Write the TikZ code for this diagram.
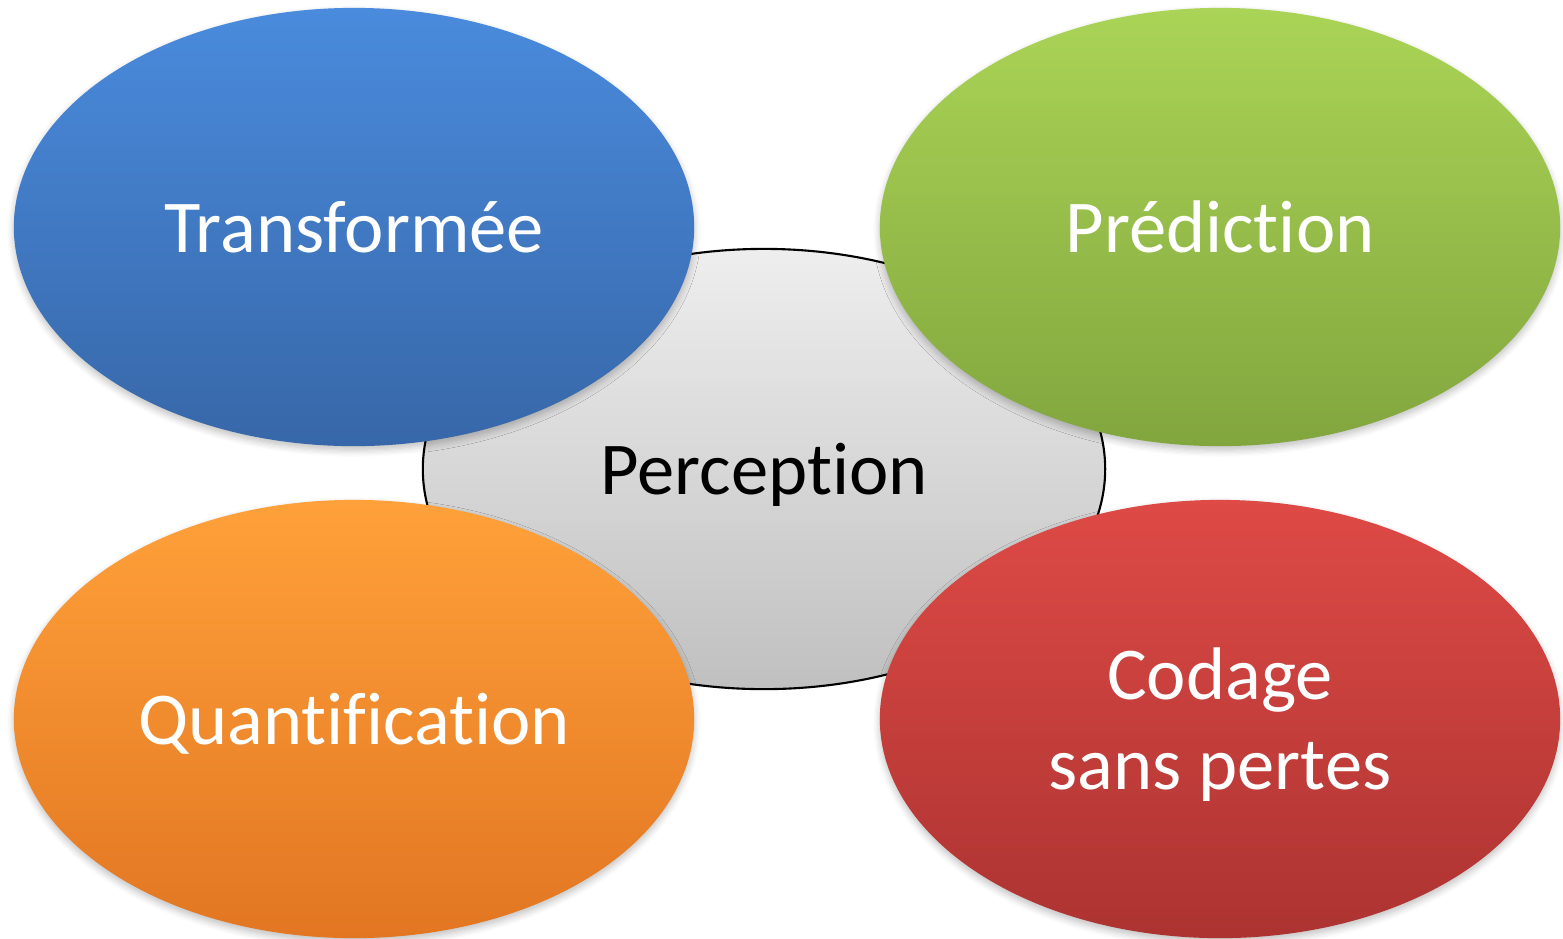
\documentclass[tikz,border=0pt]{standalone}
\usepackage{fontspec}
\setmainfont{Carlito}[Ligatures=NoCommon]
\usetikzlibrary{shapes.geometric,shadows.blur}
\definecolor{blueTop}{RGB}{74,139,221}
\definecolor{blueBot}{RGB}{55,103,168}
\definecolor{greenTop}{RGB}{170,212,86}
\definecolor{greenBot}{RGB}{130,166,62}
\definecolor{orangeTop}{RGB}{255,161,58}
\definecolor{orangeBot}{RGB}{226,118,34}
\definecolor{redTop}{RGB}{222,74,70}
\definecolor{redBot}{RGB}{172,51,49}
\definecolor{grayTop}{RGB}{238,238,238}
\definecolor{grayBot}{RGB}{192,192,192}
\tikzset{
  petal/.style={ellipse, minimum width=6.8cm, minimum height=4.38cm, inner sep=0pt,
    blur shadow={shadow xshift=0pt, shadow yshift=-0.4mm, shadow blur steps=6, shadow opacity=25}},
  hub/.style={ellipse, minimum width=6.82cm, minimum height=4.4cm, inner sep=0pt,
    draw=black, line width=0.6pt, top color=grayTop, bottom color=grayBot},
  caption/.style={inner sep=0pt, align=center, text=white,
    font=\fontsize{21.2}{25.6}\selectfont},
}
\begin{document}
\begin{tikzpicture}[x=0.01cm, y=-0.01cm]
\useasboundingbox (0,0) rectangle (1563,938);
% central ellipse, drawn first so the four petals overlap it
\node[hub] (perc) at (764,469) {};
\node[petal, top color=blueTop, bottom color=blueBot] (trans) at (354,227) {};
\node[petal, top color=greenTop, bottom color=greenBot] (pred) at (1220,227) {};
\node[petal, top color=orangeTop, bottom color=orangeBot] (quant) at (354,719) {};
\node[petal, top color=redTop, bottom color=redBot] (code) at (1220,719) {};
% captions
\node[caption, text=black, yshift=-0.06cm] (percT) at (perc) {Perception};
\node[caption] (transT) at (trans) {Transformée};
\node[caption] (predT) at (pred) {Prédiction};
\node[caption, yshift=-0.05cm] (quantT) at (quant) {Quantification};
\node[caption, yshift=-0.06cm] (codeT) at (code) {Codage\\sans pertes};
\end{tikzpicture}
\end{document}
